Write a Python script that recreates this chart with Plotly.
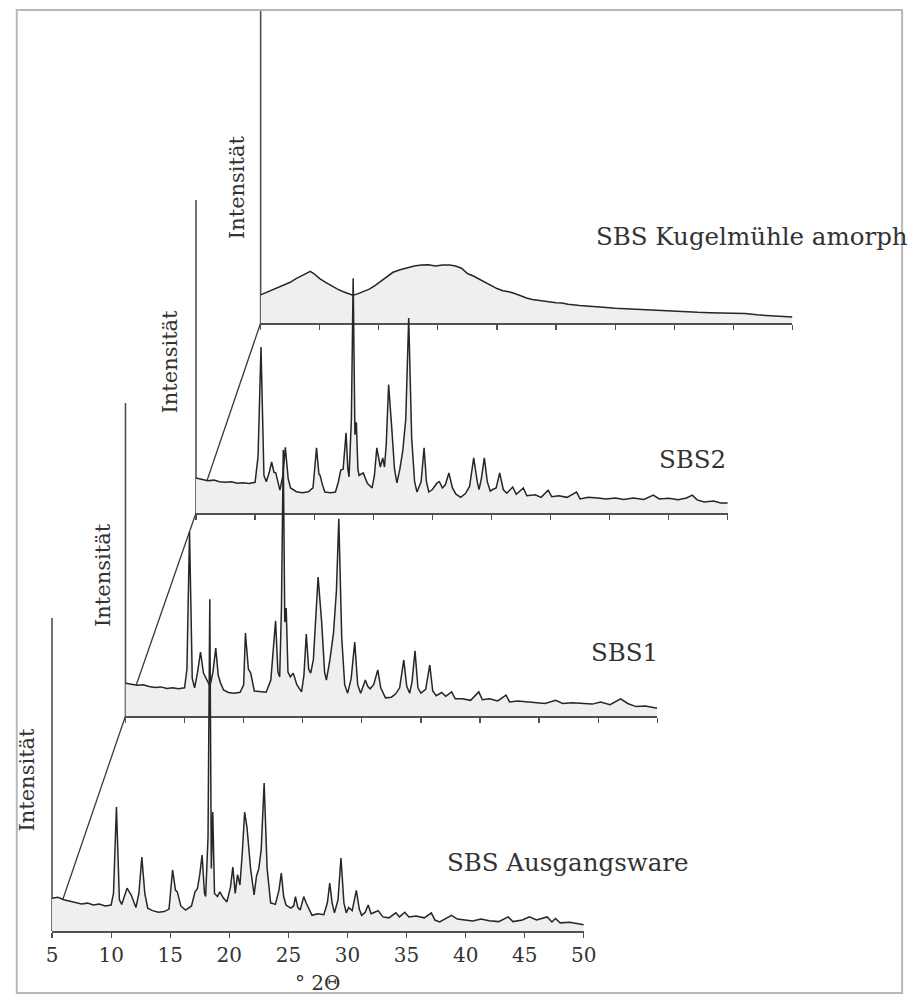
import plotly.graph_objects as go

# ---------------- data ----------------
# 2-theta positions / relative intensities (axis height = 100)
tt_ausgang = [5.0, 5.5, 6.0, 6.5, 7.0, 7.5, 8.0, 8.5, 9.0, 9.5, 10.0, 10.2, 10.45, 10.7, 10.9,
              11.2, 11.35, 11.7, 12.1, 12.35, 12.6, 12.85, 13.1, 13.5, 14.0, 14.5, 14.9, 15.2,
              15.45, 15.6, 15.9, 16.3, 16.8, 17.1, 17.3, 17.5, 17.7, 17.9, 18.0, 18.2, 18.35,
              18.48, 18.6, 18.75, 19.0, 19.2, 19.5, 19.8, 20.1, 20.3, 20.5, 20.7, 20.9, 21.1,
              21.3, 21.5, 21.8, 22.1, 22.3, 22.5, 22.7, 22.95, 23.2, 23.5, 23.9, 24.2, 24.4,
              24.6, 24.8, 25.2, 25.45, 25.6, 25.8, 26.0, 26.3, 26.5, 27.0, 27.5, 28.0, 28.3,
              28.5, 28.7, 28.9, 29.2, 29.45, 29.7, 29.9, 30.1, 30.4, 30.75, 31.0, 31.2, 31.5,
              31.75, 32.0, 32.3, 32.6, 33.0, 33.5, 34.1, 34.4, 34.85, 35.2, 35.8, 36.5, 37.1,
              37.4, 37.8, 38.3, 38.8, 39.3, 40.0, 40.6, 41.3, 42.0, 42.8, 43.6, 44.0, 44.8,
              45.4, 46.0, 46.9, 47.3, 47.6, 48.0, 48.8, 49.4, 50.0]
int_ausgang = [10.5, 10.8, 10.0, 9.6, 9.2, 8.6, 8.9, 8.3, 8.6, 8.0, 8.3, 12.0, 39.6, 10.0, 8.5,
               12.5, 13.7, 11.5, 7.5, 12.0, 23.6, 12.0, 7.3, 6.5, 6.0, 6.2, 7.0, 19.5,
               13.0, 12.5, 8.0, 6.7, 8.0, 12.5, 13.5, 18.0, 24.3, 12.0, 11.0, 30.0, 106.0,
               20.0, 38.0, 12.0, 11.0, 12.5, 10.5, 9.3, 14.0, 20.4, 12.0, 18.0, 14.7, 25.0,
               38.0, 33.0, 20.0, 11.5, 17.5, 20.0, 26.0, 47.3, 20.0, 9.0, 8.5, 13.0, 18.5,
               11.0, 8.3, 7.3, 8.0, 11.0, 7.5, 6.7, 11.0, 9.0, 5.0, 5.5, 5.2, 9.0,
               15.3, 9.0, 5.8, 10.0, 23.3, 9.0, 5.8, 7.5, 6.5, 13.0, 7.0, 5.0, 6.0,
               8.3, 5.5, 6.0, 6.5, 4.5, 4.2, 5.8, 4.5, 6.0, 4.5, 4.8, 4.2, 5.8,
               3.5, 2.9, 4.0, 5.0, 3.8, 3.5, 3.2, 3.8, 3.3, 3.0, 4.5, 3.0, 3.5,
               4.5, 3.5, 4.5, 2.9, 4.0, 2.6, 2.8, 2.3, 2.0]

tt_sbs1 = [5.0, 5.5, 6.0, 6.5, 7.0, 7.5, 8.0, 8.5, 9.0, 9.5, 10.0, 10.2, 10.42, 10.65, 10.85,
           11.1, 11.35, 11.6, 11.8, 12.15, 12.4, 12.64, 12.85, 13.05, 13.3, 13.7, 14.2, 14.7,
           15.0, 15.15, 15.4, 15.6, 15.9, 16.4, 16.9, 17.3, 17.5, 17.7, 17.9, 18.05, 18.2,
           18.35, 18.48, 18.6, 18.75, 18.95, 19.2, 19.5, 19.9, 20.1, 20.3, 20.5, 20.67, 20.9,
           21.3, 21.6, 21.85, 22.0, 22.3, 22.6, 22.85, 23.05, 23.3, 23.55, 23.8, 24.1, 24.4,
           24.65, 24.9, 25.15, 25.3, 25.5, 25.7, 26.0, 26.35, 26.6, 27.0, 27.5, 27.85, 28.2,
           28.55, 28.8, 29.05, 29.25, 29.5, 29.75, 30.0, 30.4, 30.75, 31.0, 31.3, 31.75, 32.1,
           32.6, 32.9, 33.5, 34.2, 34.9, 35.2, 35.8, 36.5, 37.2, 37.5, 38.2, 39.0, 39.8,
           40.5, 41.4, 42.0, 42.8, 43.6, 44.5, 45.2, 46.0, 46.9, 47.5, 48.2, 49.0, 50.0]
int_sbs1 = [10.5, 10.2, 9.8, 10.0, 9.4, 9.1, 9.3, 8.8, 9.0, 8.7, 9.0, 15.0, 58.8, 12.0, 9.0,
            14.0, 20.4, 13.7, 12.0, 9.5, 14.0, 21.7, 13.0, 10.5, 8.3, 7.5, 7.3, 7.6,
            10.0, 26.5, 15.0, 13.7, 8.0, 7.7, 7.6, 11.5, 20.0, 30.4, 14.0, 12.5, 35.0,
            85.0, 30.0, 34.5, 14.0, 12.5, 13.7, 10.0, 7.7, 13.0, 26.2, 15.0, 13.7, 18.0,
            44.4, 30.0, 14.0, 11.5, 18.0, 26.5, 40.0, 63.0, 25.0, 10.0, 7.3, 12.0, 23.6,
            10.0, 7.3, 10.0, 11.5, 9.5, 8.7, 10.0, 14.7, 9.0, 5.8, 6.0, 7.0, 9.0,
            17.9, 9.5, 7.3, 11.0, 20.8, 9.0, 7.3, 8.5, 16.3, 8.0, 6.5, 7.5, 6.3,
            7.7, 5.5, 5.5, 5.0, 7.7, 5.2, 5.5, 4.8, 6.7, 4.5, 4.8, 4.5, 4.2,
            4.0, 5.0, 4.0, 4.2, 4.0, 3.8, 4.5, 3.6, 5.5, 4.0, 3.0, 3.2, 2.5]

tt_sbs2 = [5.0, 5.5, 6.0, 6.5, 7.0, 7.5, 8.0, 8.5, 9.0, 9.5, 10.0, 10.25, 10.5, 10.75, 10.95,
           11.2, 11.4, 11.6, 11.75, 12.1, 12.35, 12.56, 12.8, 13.0, 13.5, 14.0, 14.5, 14.9,
           15.2, 15.4, 15.5, 15.7, 15.9, 16.4, 16.8, 17.05, 17.25, 17.45, 17.7, 17.85, 17.95,
           18.15, 18.3, 18.45, 18.57, 18.7, 18.8, 19.15, 19.5, 19.9, 20.1, 20.3, 20.6, 20.8,
           20.95, 21.1, 21.3, 21.55, 21.8, 22.0, 22.25, 22.5, 22.75, 23.0, 23.25, 23.5, 23.7,
           24.05, 24.3, 24.5, 24.7, 25.0, 25.4, 25.6, 25.85, 26.1, 26.4, 26.7, 27.0, 27.4,
           27.8, 28.15, 28.5, 28.8, 28.95, 29.15, 29.4, 29.65, 29.9, 30.1, 30.4, 30.7, 31.0,
           31.3, 31.8, 32.1, 32.7, 33.0, 33.7, 34.2, 34.8, 35.1, 35.7, 36.4, 37.2, 37.5,
           38.2, 39.0, 39.7, 40.5, 41.2, 42.0, 42.9, 43.7, 44.2, 45.0, 45.8, 46.5, 47.0,
           47.4, 48.0, 48.8, 49.4, 50.0]
int_sbs2 = [11.2, 10.8, 10.3, 10.5, 10.0, 9.8, 10.0, 9.5, 9.7, 9.4, 9.8, 18.0, 53.0, 12.0, 10.0,
            13.0, 16.3, 13.0, 12.8, 7.3, 12.0, 21.0, 11.0, 8.0, 6.8, 6.5, 6.8, 8.0,
            20.8, 12.5, 12.0, 9.0, 6.7, 6.5, 6.7, 10.0, 13.7, 14.0, 25.6, 14.0, 11.5,
            30.0, 75.0, 25.0, 29.0, 14.0, 12.0, 12.8, 9.5, 8.0, 12.0, 20.8, 14.7, 17.6,
            14.7, 22.0, 41.0, 28.0, 14.0, 9.6, 14.0, 20.0, 30.0, 62.3, 24.0, 10.0, 6.7,
            10.0, 20.8, 10.0, 6.7, 7.5, 9.6, 10.0, 8.0, 9.0, 12.8, 8.0, 6.0, 5.0,
            6.2, 8.5, 17.6, 10.0, 7.5, 11.0, 17.6, 10.0, 7.0, 7.5, 8.0, 12.8, 7.5,
            6.3, 8.3, 6.0, 8.0, 5.5, 5.8, 5.0, 7.3, 5.2, 5.5, 5.0, 6.7, 4.5,
            5.0, 4.8, 4.5, 4.8, 4.3, 4.8, 4.3, 5.7, 4.5, 4.7, 4.2, 4.8, 5.7,
            4.2, 3.5, 3.8, 3.2, 3.2]

tt_amorph = [5.0, 5.5, 6.0, 6.5, 7.0, 7.5, 8.0, 8.5, 9.0, 9.2, 9.5, 10.0, 10.5, 11.0, 11.5,
             12.0, 12.5, 12.8, 13.2, 13.7, 14.2, 14.7, 15.2, 15.7, 16.2, 16.8, 17.4, 18.0,
             18.6, 19.2, 19.8, 20.4, 21.0, 21.5, 22.0, 22.5, 23.0, 23.5, 24.0, 24.5, 25.0,
             25.5, 26.0, 26.5, 27.0, 27.5, 28.0, 28.5, 29.0, 29.5, 30.0, 30.5, 31.0, 32.0,
             33.0, 34.0, 35.0, 36.0, 37.0, 38.0, 39.0, 40.0, 41.0, 42.0, 43.0, 44.0, 45.0,
             46.0, 47.0, 48.0, 49.0, 50.0]
int_amorph = [9.0, 9.8, 10.5, 11.3, 12.2, 13.0, 14.2, 15.2, 16.0, 16.5, 15.8, 14.2, 13.0, 11.8, 10.8,
              10.0, 9.3, 8.9, 9.3, 10.0, 10.8, 12.0, 13.5, 15.0, 16.2, 17.0, 17.6, 18.2,
              18.5, 18.6, 18.2, 18.5, 18.5, 18.2, 17.5, 15.8, 15.0, 14.0, 13.0, 12.0, 11.0,
              10.3, 10.0, 9.4, 8.6, 8.0, 7.5, 7.2, 7.0, 6.6, 6.5, 6.4, 6.0, 5.6,
              5.2, 5.0, 4.7, 4.5, 4.2, 4.1, 3.8, 3.6, 3.6, 3.4, 3.3, 3.2, 3.0,
              3.0, 2.6, 2.4, 2.3, 1.9]

sample_names = ["SBS Kugelmühle amorph", "SBS2", "SBS1", "SBS Ausgangsware"]
x_ticks = [5, 10, 15, 20, 25, 30, 35, 40, 45, 50]
x_title = "° 2Θ"
y_title = "Intensität"

# ---------------- layout geometry (pixels) ----------------
W, H = 920, 995
FONT = "DejaVu Serif"
TXT = "#333333"
AX = "#505050"
PX_PER_UNIT = 3.13           # pixels per intensity unit (axis height 313 px = 100)
AXIS_PX = 313
PANEL_W = 543                # 5..50 deg
DOM_PX = 360

# back to front: (left px, baseline px)
panels = [
    (260, 323, tt_amorph, int_amorph),
    (194, 513, tt_sbs2, int_sbs2),
    (122, 716, tt_sbs1, int_sbs1),
    (47, 931, tt_ausgang, int_ausgang),
]
label_pos = [(600, 237), (665, 459), (595, 652), (448, 862)]
ylab_off = [(-24, -136), (-27, -151), (-23, -141), (-26, -151)]

fig = go.Figure()
shapes = []
annotations = []

def px(x):
    return x / W

def py(y):
    return 1 - y / H

for k, (left, base, xs, ys) in enumerate(panels):
    idx = "" if k == 0 else str(k + 1)
    dom_h = min(DOM_PX, base)
    front = (k == len(panels) - 1)
    fig.add_trace(go.Scatter(
        x=xs, y=ys, mode="lines",
        line=dict(color="#262626", width=1.5),
        fill="tozeroy", fillcolor="#efefef",
        xaxis="x" + idx, yaxis="y" + idx,
        hoverinfo="skip", showlegend=False))
    fig.layout["xaxis" + idx] = dict(
        domain=[px(left), px(left + PANEL_W)], range=[5, 50],
        anchor="y" + idx, tickvals=x_ticks, ticks="outside", ticklen=5,
        tickwidth=1.2, tickcolor=AX, showline=True, linecolor=AX, linewidth=1.6,
        showgrid=False, zeroline=False, showticklabels=front,
        tickfont=dict(family=FONT, size=20, color=TXT), fixedrange=True)
    fig.layout["yaxis" + idx] = dict(
        domain=[py(base), py(base - dom_h)], range=[0, dom_h / PX_PER_UNIT],
        anchor="x" + idx, visible=False, fixedrange=True)
    # vertical intensity axis line
    shapes.append(dict(type="line", xref="paper", yref="paper",
                       x0=px(left), x1=px(left), y0=py(base), y1=py(base - AXIS_PX),
                       line=dict(color=AX, width=1.6), layer="below"))
    # depth line to the panel behind
    if k > 0:
        bl, bb = panels[k - 1][0], panels[k - 1][1]
        shapes.append(dict(type="line", xref="paper", yref="paper",
                           x0=px(left), y0=py(base), x1=px(bl), y1=py(bb),
                           line=dict(color="#3a3a3a", width=1.3), layer="below"))
    ox, oy = ylab_off[k]
    annotations.append(dict(text=y_title, xref="paper", yref="paper",
                            x=px(left + ox), y=py(base + oy), textangle=-90,
                            showarrow=False, xanchor="center", yanchor="middle",
                            font=dict(family=FONT, size=21, color=TXT)))
    lx, ly = label_pos[k]
    annotations.append(dict(text=sample_names[k], xref="paper", yref="paper",
                            x=px(lx), y=py(ly), showarrow=False,
                            xanchor="left", yanchor="middle",
                            font=dict(family=FONT, size=24.5, color=TXT)))

annotations.append(dict(text=x_title, xref="paper", yref="paper",
                        x=px(318), y=py(983), showarrow=False,
                        xanchor="center", yanchor="middle",
                        font=dict(family=FONT, size=20, color=TXT)))

# outer frame
shapes.append(dict(type="rect", xref="paper", yref="paper",
                   x0=px(11), x1=px(915), y0=py(993), y1=py(10),
                   line=dict(color="#b8b8b8", width=2), layer="below"))

fig.update_layout(
    width=W, height=H, margin=dict(l=0, r=0, t=0, b=0),
    paper_bgcolor="white", plot_bgcolor="rgba(0,0,0,0)",
    shapes=shapes, annotations=annotations, showlegend=False,
    font=dict(family=FONT, color=TXT))

fig.write_html("out.html",
               config={"displayModeBar": False, "staticPlot": True},
               post_script="document.body.style.margin='0';"
                           "document.body.style.overflow='hidden';")
